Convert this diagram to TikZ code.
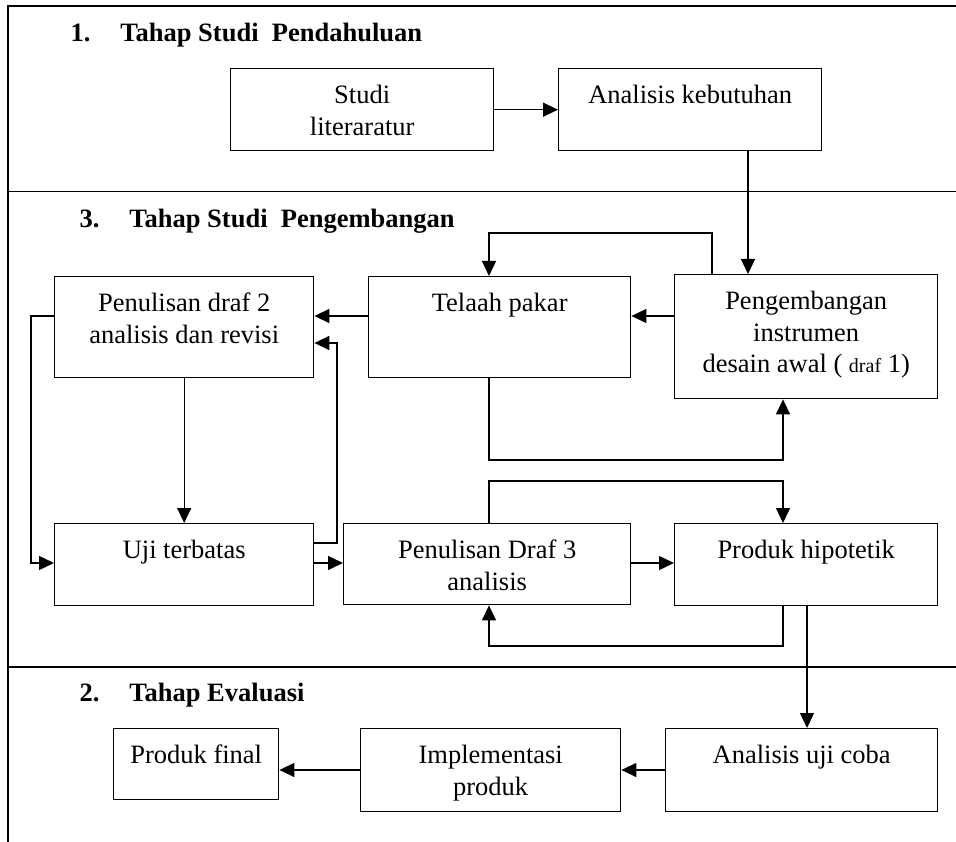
\documentclass[tikz,border=0pt]{standalone}
\usepackage{fontspec}
\setmainfont{Liberation Serif}
\usetikzlibrary{arrows.meta}

\begin{document}
\begin{tikzpicture}[x=1pt, y=-1pt, every node/.style={font=\fontsize{26.5}{31.5}\selectfont}]
  \tikzset{stepbox/.style={rectangle, draw, line width=1.4pt, inner sep=0pt, align=flush center, anchor=north west, text height=35pt}}
  \tikzset{phase/.style={anchor=base west, font=\fontsize{26.5}{31.5}\selectfont\bfseries}}
  \tikzset{arr/.style={line width=1.4pt, -{Triangle[length=15pt, width=14pt]}}}
  \tikzset{frame/.style={line width=1.8pt}}

  \useasboundingbox (0,0) rectangle (956,842);

  % frame
  \draw[frame] (956,6) -- (8,6) -- (8,842);
  \draw[frame] (8,191.5) -- (956,191.5);
  \draw[frame] (8,667) -- (956,667);

  \node[phase] (title1) at (67,42) {1.\hspace{30pt}Tahap Studi\ \ Pendahuluan};
  \node[phase] (title3) at (76,228) {3.\hspace{30pt}Tahap Studi\ \ Pengembangan};
  \node[phase] (title2) at (76,701) {2.\hspace{30pt}Tahap Evaluasi};

  \node[stepbox, text width=263pt, text depth=47pt] (studi) at (230,68) {Studi\\literaratur};
  \node[stepbox, text width=263pt, text depth=47pt] (kebutuhan) at (558,68) {Analisis kebutuhan};

  \node[stepbox, text width=259pt, text depth=66pt] (draf2) at (54,276) {Penulisan draf 2\\analisis dan revisi};
  \node[stepbox, text width=262pt, text depth=66pt] (telaah) at (368,276) {Telaah pakar};
  \node[stepbox, text width=263pt, text depth=89pt] (pengembangan) at (674,274)
    {Pengembangan\\instrumen\\desain awal ( {\fontsize{20}{24}\selectfont draf} 1)};

  \node[stepbox, text width=259pt, text depth=47pt] (uji) at (54,523) {Uji terbatas};
  \node[stepbox, text width=287pt, text depth=46pt] (draf3) at (343,523) {Penulisan Draf 3\\analisis};
  \node[stepbox, text width=263pt, text depth=47pt] (hipotetik) at (674,523) {Produk hipotetik};

  \node[stepbox, text width=165pt, text depth=36pt] (final) at (113,728) {Produk final};
  \node[stepbox, text width=260pt, text depth=48pt] (implementasi) at (360,728) {Implementasi\\produk};
  \node[stepbox, text width=272pt, text depth=48pt] (ujicoba) at (665,728) {Analisis uji coba};

  \draw[arr] (studi) -- (kebutuhan);
  \draw[arr] (kebutuhan.south -| 748,0) -- (pengembangan.north -| 748,0);

  \draw[arr] (pengembangan.west |- 0,316) -- (telaah.east |- 0,316);
  \draw[arr] (telaah.west |- 0,316) -- (draf2.east |- 0,316);
  \draw[arr] (pengembangan.north -| 712,0) |- (489,233) -- (telaah.north -| 489,0);
  \draw[arr] (telaah.south -| 489,0) |- (783,460) -- (pengembangan.south -| 783,0);

  \draw[arr] (draf2.west |- 0,316) -| (31,563) -- (uji.west |- 0,563);
  \draw[arr] (draf2.south) -- (uji.north);
  \draw[arr] (uji.east |- 0,543) -| (337,343) -- (draf2.east |- 0,343);

  \draw[arr] (uji.east |- 0,563) -- (draf3.west |- 0,563);
  \draw[arr] (draf3.north -| 489,0) |- (783,481) -- (hipotetik.north -| 783,0);
  \draw[arr] (draf3.east |- 0,563) -- (hipotetik.west |- 0,563);
  \draw[arr] (hipotetik.south -| 783,0) |- (489,646) -- (draf3.south -| 489,0);

  \draw[arr] (hipotetik.south -| 807,0) -- (ujicoba.north -| 807,0);
  \draw[arr] (ujicoba.west |- 0,770) -- (implementasi.east |- 0,770);
  \draw[arr] (implementasi.west |- 0,770) -- (final.east |- 0,770);
\end{tikzpicture}
\end{document}
